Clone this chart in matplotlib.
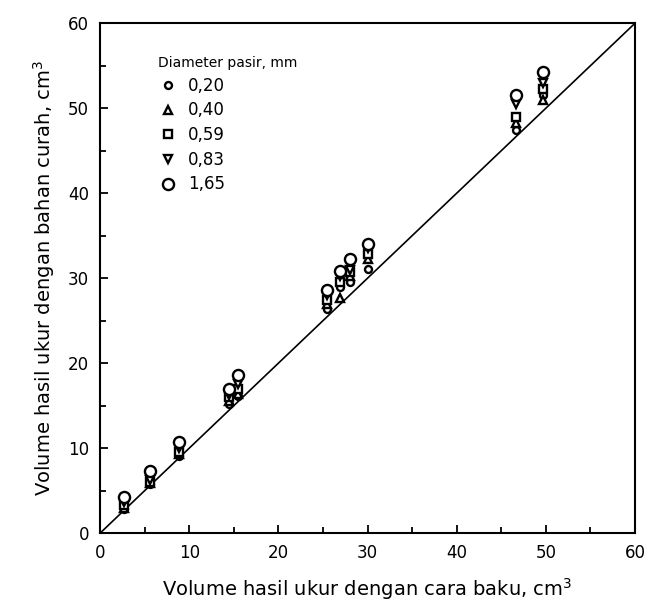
import matplotlib
matplotlib.use("Agg")
import matplotlib.pyplot as plt
from matplotlib.ticker import MultipleLocator

# volume measured by standard method (cm3)
x_baku = [2.7, 5.6, 8.9, 14.5, 15.5, 25.5, 26.9, 28.0, 30.1, 46.6, 49.7]

# volume measured with bulk material, per sand diameter (mm)
diameters = ["0,20", "0,40", "0,59", "0,83", "1,65"]
y_020 = [2.8, 5.8, 9.1, 15.2, 16.1, 26.4, 29.0, 29.5, 31.1, 47.4, 51.6]
y_040 = [3.0, 5.9, 9.3, 15.6, 16.4, 27.0, 27.7, 30.3, 32.3, 48.3, 51.0]
y_059 = [3.3, 6.0, 9.6, 16.0, 17.0, 27.4, 29.5, 30.7, 32.9, 49.0, 52.2]
y_083 = [3.7, 6.3, 10.0, 16.3, 17.5, 28.0, 30.2, 31.0, 33.6, 50.5, 53.0]
y_165 = [4.2, 7.3, 10.7, 17.0, 18.6, 28.6, 30.8, 32.2, 34.0, 51.5, 54.2]

series = [y_020, y_040, y_059, y_083, y_165]
markers = ["o", "^", "s", "v", "o"]
sizes = [5, 6, 5.5, 6, 8]

fig = plt.figure(figsize=(6.5, 6.1), dpi=100)
ax = fig.add_axes([0.154, 0.126, 0.823, 0.836])

ax.plot([0, 60], [0, 60], color="black", lw=1.2, zorder=1)

for ys, lab, m, s in zip(series, diameters, markers, sizes):
    ax.plot(x_baku, ys, linestyle="none", marker=m, markersize=s,
            markerfacecolor="white", markeredgecolor="black",
            markeredgewidth=1.7, label=lab, zorder=3)

ax.set_xlim(0, 60)
ax.set_ylim(0, 60)
ax.xaxis.set_major_locator(MultipleLocator(10))
ax.yaxis.set_major_locator(MultipleLocator(10))
ax.xaxis.set_minor_locator(MultipleLocator(5))
ax.yaxis.set_minor_locator(MultipleLocator(5))
ax.tick_params(which="both", direction="in", width=1.3)
ax.tick_params(which="major", length=6, labelsize=12, pad=8)
ax.tick_params(which="minor", length=4)
for sp in ax.spines.values():
    sp.set_linewidth(1.5)

ax.set_xlabel("Volume hasil ukur dengan cara baku, cm$^3$", fontsize=14, labelpad=10)
ax.set_ylabel("Volume hasil ukur dengan bahan curah, cm$^3$", fontsize=14, labelpad=8)

leg = ax.legend(title="Diameter pasir, mm", loc="upper left",
                bbox_to_anchor=(0.08, 0.965), frameon=False, fontsize=12,
                title_fontsize=10, handletextpad=0.6, labelspacing=0.4,
                handlelength=1.2)
leg._legend_box.align = "left"

fig.savefig("out.png", dpi=100)
